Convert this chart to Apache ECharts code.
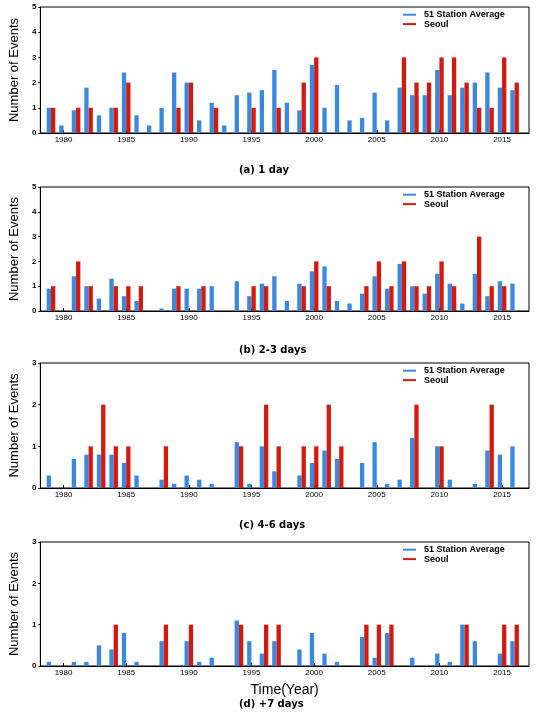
<!DOCTYPE html>
<html>
<head>
<meta charset="utf-8">
<script src="https://cdn.jsdelivr.net/npm/echarts@6/dist/echarts.min.js"></script>
<style>
  html, body { margin: 0; padding: 0; background: #fff; }
  #chart { width: 537px; height: 712px; }
</style>
</head>
<body>
<div id="chart"></div>
<script>
const years = []
for (let y = 1979; y <= 2016; y++) years.push(y)

const yearTicks = [1980, 1985, 1990, 1995, 2000, 2005, 2010, 2015]

// (a) 1 day
const avg1 = [1.0, 0.3, 0.9, 1.8, 0.7, 1.0, 2.4, 0.7, 0.3, 1.0, 2.4, 2.0, 0.5, 1.2, 0.3, 1.5, 1.6, 1.7, 2.5,
  1.2, 0.9, 2.7, 1.0, 1.9, 0.5, 0.6, 1.6, 0.5, 1.8, 1.5, 1.5, 2.5, 1.5, 1.8, 2.0, 2.4, 1.8, 1.7]
const seoul1 = [1, 0, 1, 1, 0, 1, 2, 0, 0, 0, 1, 2, 0, 1, 0, 0, 1, 0, 1,
  0, 2, 3, 0, 0, 0, 0, 0, 0, 3, 2, 2, 3, 3, 2, 1, 1, 3, 2]

// (b) 2-3 days
const avg23 = [0.9, 0, 1.4, 1.0, 0.5, 1.3, 0.6, 0.4, 0, 0.1, 0.9, 0.9, 0.9, 1.0, 0, 1.2, 0.6, 1.1, 1.4,
  0.4, 1.1, 1.6, 1.8, 0.4, 0.3, 0.7, 1.4, 0.9, 1.9, 1.0, 0.7, 1.5, 1.1, 0.3, 1.5, 0.6, 1.2, 1.1]
const seoul23 = [1, 0, 2, 1, 0, 1, 1, 1, 0, 0, 1, 0, 1, 0, 0, 0, 1, 1, 0,
  0, 1, 2, 1, 0, 0, 1, 2, 1, 2, 1, 1, 2, 1, 0, 3, 1, 1, 0]

// (c) 4-6 days
const avg46 = [0.3, 0, 0.7, 0.8, 0.8, 0.8, 0.6, 0.3, 0, 0.2, 0.1, 0.3, 0.2, 0.1, 0, 1.1, 0.1, 1.0, 0.4,
  0, 0.3, 0.6, 0.9, 0.7, 0, 0.6, 1.1, 0.1, 0.2, 1.2, 0, 1.0, 0.2, 0, 0.1, 0.9, 0.8, 1.0]
const seoul46 = [0, 0, 0, 1, 2, 1, 1, 0, 0, 1, 0, 0, 0, 0, 0, 1, 0, 2, 1,
  0, 1, 1, 2, 1, 0, 0, 0, 0, 0, 2, 0, 1, 0, 0, 0, 2, 0, 0]

// (d) +7 days
const avg7 = [0.1, 0, 0.1, 0.1, 0.5, 0.4, 0.8, 0.1, 0, 0.6, 0, 0.6, 0.1, 0.2, 0, 1.1, 0.6, 0.3, 0.6,
  0, 0.4, 0.8, 0.3, 0.1, 0, 0.7, 0.2, 0.8, 0, 0.2, 0, 0.3, 0.1, 1.0, 0.6, 0, 0.3, 0.6]
const seoul7 = [0, 0, 0, 0, 0, 1, 0, 0, 0, 1, 0, 1, 0, 0, 0, 1, 0, 1, 1,
  0, 0, 0, 0, 0, 0, 1, 1, 1, 0, 0, 0, 0, 0, 1, 0, 0, 1, 1]

const panels = [
  { title: '(a) 1 day', avg: avg1, seoul: seoul1, ymax: 5, top: 7, height: 126, titleTop: 165 },
  { title: '(b) 2-3 days', avg: avg23, seoul: seoul23, ymax: 5, top: 187, height: 124, titleTop: 345 },
  { title: '(c) 4-6 days', avg: avg46, seoul: seoul46, ymax: 3, top: 363, height: 125, titleTop: 520 },
  { title: '(d) +7 days', avg: avg7, seoul: seoul7, ymax: 3, top: 542, height: 124, titleTop: 699 },
]

const BLUE = '#3a88e0'
const RED = '#d4190f'

const chart = echarts.init(document.getElementById('chart'))

const grid = []
const xAxis = []
const yAxis = []
const series = []
const legend = []
const title = []

panels.forEach((p, i) => {
  grid.push({
    left: 32, right: 8, top: p.top, height: p.height,
    show: true, borderColor: '#000', borderWidth: 1, backgroundColor: 'transparent',
  })
  xAxis.push({
    gridIndex: i,
    type: 'value',
    min: 1978.15,
    max: 2017.15,
    splitLine: { show: false },
    axisLine: { onZero: false, lineStyle: { color: '#000', width: 1 } },
    axisTick: { inside: true, length: 3, customValues: yearTicks, lineStyle: { color: '#000' } },
    axisLabel: {
      customValues: yearTicks, color: '#000', fontSize: 8, margin: 3,
      fontFamily: 'Liberation Sans',
      formatter: (v) => String(v),
    },
    name: i === 3 ? 'Time(Year)' : '',
    nameLocation: 'middle',
    nameGap: 17,
    nameTextStyle: { color: '#000', fontSize: 14, fontFamily: 'Liberation Sans', verticalAlign: 'top' },
  })
  yAxis.push({
    gridIndex: i,
    type: 'value',
    min: 0,
    max: p.ymax,
    interval: 1,
    splitLine: { show: false },
    axisLine: { show: true, lineStyle: { color: '#000', width: 1 } },
    axisTick: { show: true, length: 2, lineStyle: { color: '#000' } },
    axisLabel: { color: '#000', fontSize: 8, margin: 4, fontFamily: 'Liberation Sans', fontWeight: 'bold' },
    name: 'Number of Events',
    nameLocation: 'middle',
    nameGap: 15,
    nameTextStyle: { color: '#000', fontSize: 13, fontFamily: 'Liberation Sans' },
  })
  series.push({
    name: '51 Station Average',
    type: 'bar',
    xAxisIndex: i,
    yAxisIndex: i,
    barWidth: 4.3,
    barGap: '0%',
    itemStyle: { color: BLUE },
    data: years.map((y, k) => [y, p.avg[k]]),
  })
  series.push({
    name: 'Seoul',
    type: 'bar',
    xAxisIndex: i,
    yAxisIndex: i,
    barWidth: 4.3,
    barGap: '0%',
    itemStyle: { color: RED },
    data: years.map((y, k) => [y, p.seoul[k]]),
  })
  legend.push({
    left: 403,
    top: p.top + 3,
    padding: 0,
    orient: 'vertical',
    itemGap: 0,
    itemWidth: 13,
    itemHeight: 2,
    icon: 'rect',
    selectedMode: false,
    data: ['51 Station Average', 'Seoul'],
    textStyle: { color: '#000', fontSize: 9, fontWeight: 'bold', fontFamily: 'Liberation Sans', lineHeight: 9.4, padding: [0, 0, 0, 3] },
  })
  title.push({
    text: p.title,
    left: 239,
    top: p.titleTop,
    padding: 0,
    textStyle: { color: '#000', fontSize: 10, fontWeight: 'bold', fontFamily: 'DejaVu Sans' },
  })
})

chart.setOption({
  animation: false,
  title,
  legend,
  grid,
  xAxis,
  yAxis,
  series,
})
</script>
</body>
</html>
